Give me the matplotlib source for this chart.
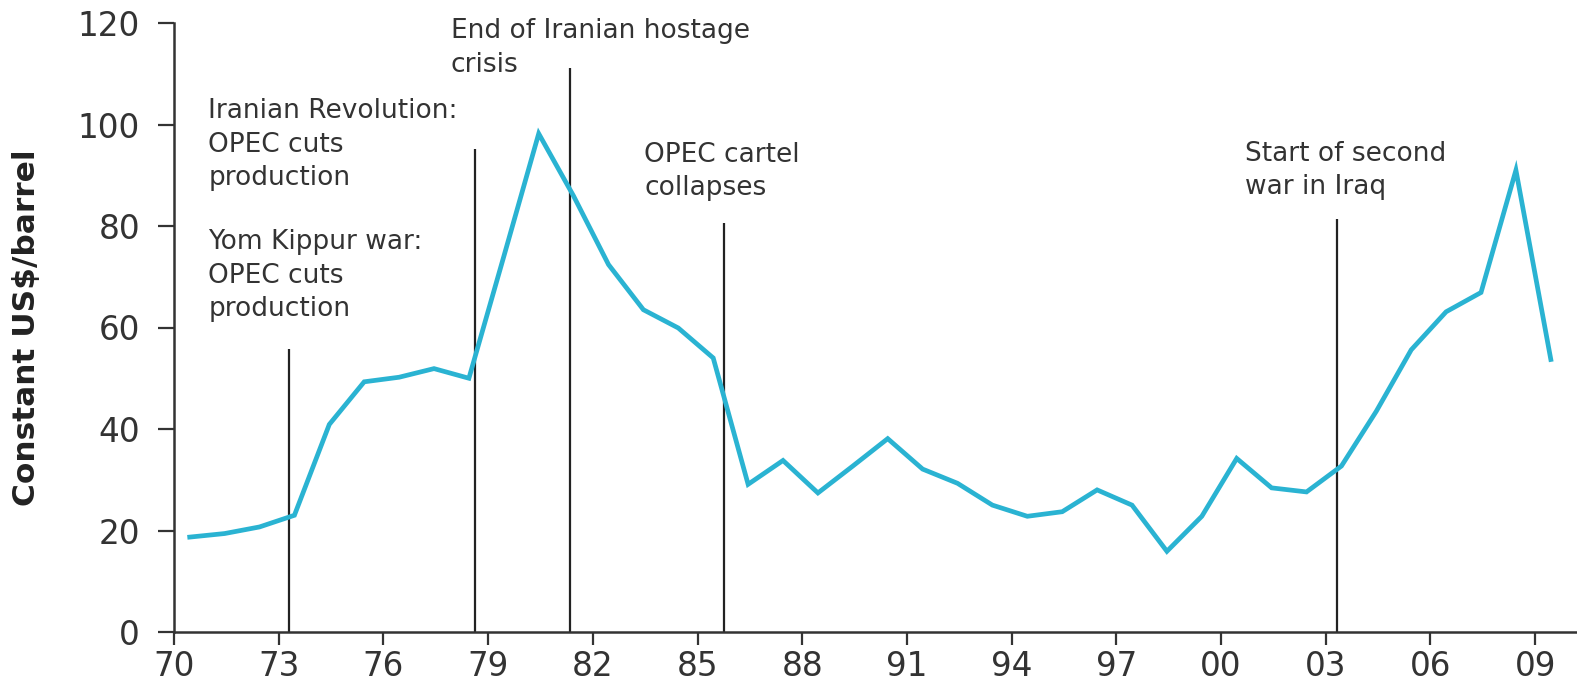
import matplotlib
matplotlib.use("Agg")
import matplotlib.pyplot as plt
import numpy as np

years = np.arange(1970, 2010)
price = [18.7, 19.4, 20.7, 23.0, 40.9, 49.3, 50.2, 51.9, 50.0, 74.0,
         98.2, 85.9, 72.4, 63.5, 59.9, 54.0, 29.1, 33.8, 27.4, 32.7,
         38.1, 32.1, 29.3, 25.0, 22.8, 23.7, 28.0, 25.0, 15.9, 22.8,
         34.2, 28.4, 27.6, 32.7, 43.5, 55.6, 63.1, 66.9, 91.0, 53.7]

# events: where the marker line sits and how high it goes
event_x = [1973.3, 1978.62, 1981.35, 1985.77, 2003.33]
event_top = [55.7, 95.2, 111.1, 80.5, 81.4]

# annotation texts with their anchor (top-left)
notes = ["Yom Kippur war:\nOPEC cuts\nproduction",
         "Iranian Revolution:\nOPEC cuts\nproduction",
         "End of Iranian hostage\ncrisis",
         "OPEC cartel\ncollapses",
         "Start of second\nwar in Iraq"]
note_x = [1970.98, 1970.98, 1977.93, 1983.47, 2000.7]
note_y = [79.4, 105.2, 121.0, 96.6, 96.8]

xticks = np.arange(1970, 2010, 3)
xlabels = ["70", "73", "76", "79", "82", "85", "88", "91", "94", "97",
           "00", "03", "06", "09"]
yticks = [0, 20, 40, 60, 80, 100, 120]

txt = "#333333"
plt.rcParams['font.family'] = ['DejaVu Sans']

fig = plt.figure(figsize=(15.77, 6.84), dpi=100)
ax = fig.add_axes([174 / 1577, 1 - 632 / 684, 1 - 174 / 1577, (632 - 23) / 684])

for x, top in zip(event_x, event_top):
    ax.plot([x, x], [0, top], color="#222222", lw=1.6, solid_capstyle="butt", zorder=2)

ax.plot(years + 0.45, price, color="#2AB3D2", lw=3.4, solid_joinstyle="miter", zorder=3)

for s, x, y in zip(notes, note_x, note_y):
    ax.text(x, y, s, ha="left", va="top", fontsize=19, color=txt,
            linespacing=1.38, clip_on=False)

ax.set_xlim(1970, 2010.2)
ax.set_ylim(0, 120)
ax.set_xticks(xticks)
ax.set_xticklabels(xlabels)
ax.set_yticks(yticks)
ax.tick_params(axis="both", direction="out", width=1.6, colors="#333333",
               labelsize=23.5, labelcolor=txt)
ax.tick_params(axis="x", length=9, pad=4)
ax.tick_params(axis="y", length=11.5, pad=13)

for side in ["top", "right"]:
    ax.spines[side].set_visible(False)
for side in ["left", "bottom"]:
    ax.spines[side].set_color("#333333")
    ax.spines[side].set_linewidth(1.8)

ax.set_ylabel("Constant US$/barrel", fontsize=22.5, fontweight="bold", color="#222222",
              va="center")
ax.yaxis.set_label_coords(-0.105, 0.5)

fig.savefig("out.png", dpi=100)
